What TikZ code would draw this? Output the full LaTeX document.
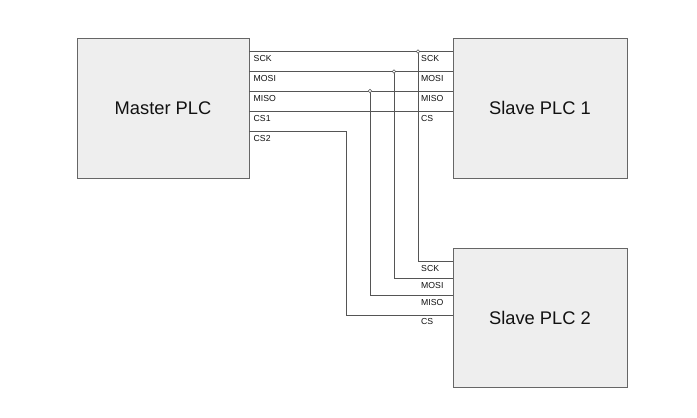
\documentclass[tikz,border=0pt]{standalone}
\usepackage{fontspec}
\setmainfont{Liberation Sans}
\usetikzlibrary{positioning}
\definecolor{cBox}{HTML}{EEEEEE}
\definecolor{cEdge}{HTML}{666666}
\definecolor{cWire}{HTML}{555555}
\definecolor{cInk}{HTML}{111111}
\tikzset{
  plc/.style={draw=cEdge, fill=cBox, line width=0.8pt, text=cInk,
              font=\fontsize{18.3}{21}\selectfont, inner sep=0pt},
  wire/.style={draw=cWire, line width=0.7pt},
  pin/.style={font=\fontsize{8.7}{10}\selectfont, text=cInk, anchor=base west, inner sep=0pt},
  tap/.style={circle, draw=cWire, fill=white, line width=0.5pt, inner sep=0pt, minimum size=3.5pt},
}

\begin{document}
\begin{tikzpicture}[x=1pt,y=-1pt]
\useasboundingbox (0,0) rectangle (697,418);

% ------------------------------------------------ the three PLCs
\node[plc, minimum width=172pt, minimum height=140pt] (master) at (163,108) {Master PLC};
\node[plc, minimum width=174pt, minimum height=140pt] (slave1) at (540,108) {Slave PLC 1};
\node[plc, minimum width=174pt, minimum height=139pt] (slave2) at (540,317.5) {Slave PLC 2};

% ------------------------------------------------ shared bus lines
\foreach \sig/\ya/\xj/\yb in {SCK/51.5/418/261, MOSI/71.5/394/278, MISO/91/370/295}{
  \coordinate (m\sig) at (master.east |- 0,\ya);
  \coordinate (a\sig) at (slave1.west |- 0,\ya);
  \coordinate (j\sig) at (\xj,\ya);
  \coordinate (b\sig) at (slave2.west |- 0,\yb);
  \draw[wire] (m\sig) -- (a\sig);
  \draw[wire] (j\sig) |- (b\sig);
  \node[pin] (lm\sig) at (253.5,\ya+10) {\sig};
  \node[pin] (la\sig) at (421,\ya+10) {\sig};
  \node[pin] (lb\sig) at (421,\yb+10) {\sig};
}

% ------------------------------------------------ chip selects
\coordinate (mCSa) at (master.east |- 0,111);
\coordinate (aCS) at (slave1.west |- 0,111);
\coordinate (mCSb) at (master.east |- 0,131.5);
\coordinate (kCS) at (346,131.5);
\coordinate (bCS) at (slave2.west |- 0,315);
\draw[wire] (mCSa) -- (aCS);
\draw[wire] (mCSb) -- (kCS) |- (bCS);
\node[pin] (lmCSa) at (253.5,121) {CS1};
\node[pin] (lmCSb) at (253.5,141.5) {CS2};
\node[pin] (laCS) at (421,121) {CS};
\node[pin] (lbCS) at (421,324.5) {CS};

% ------------------------------------------------ tap points
\foreach \sig in {SCK,MOSI,MISO}
  \node[tap] at (j\sig) {};

\end{tikzpicture}
\end{document}
